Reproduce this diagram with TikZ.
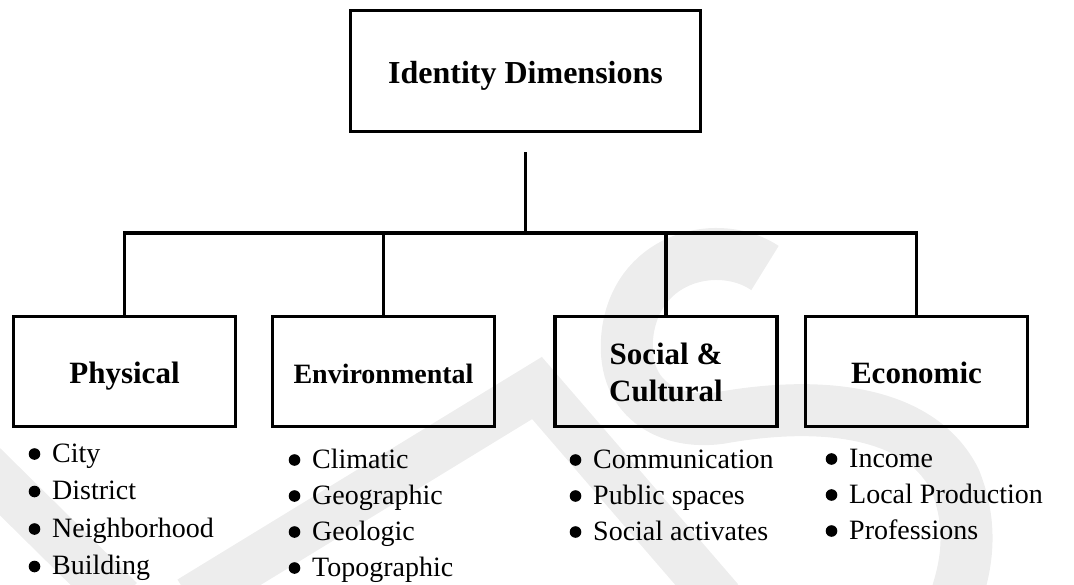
\documentclass[tikz,border=0pt]{standalone}
\usepackage{fontspec}
\setmainfont{Liberation Serif}
\usetikzlibrary{calc}
\newcommand\itembullet[1]{\fill ([xshift=-17.5pt,yshift=8pt]#1.base west) circle (5.8pt);}
\begin{document}
\begin{tikzpicture}[x=1pt,y=-1pt,
  box/.style={draw, line width=3.3pt, inner sep=0pt, minimum width=222pt, minimum height=110pt,
    font=\bfseries\fontsize{31}{38}\selectfont},
  rootbox/.style={box, minimum width=350pt, minimum height=121pt, font=\bfseries\fontsize{32}{38}\selectfont},
  item/.style={anchor=base west, inner sep=0pt, font=\fontsize{28}{34}\selectfont},
  link/.style={line width=3.3pt},
  wm/.style={draw=black!7, line width=52pt}]
\useasboundingbox (0,0) rectangle (1074,585);
% faint watermark
\draw[wm] (765,268) .. controls (720,238) and (640,255) .. (628,330)
  .. controls (618,400) and (670,425) .. (720,418)
  .. controls (820,400) and (920,410) .. (955,480)
  .. controls (975,530) and (965,570) .. (955,600);
\draw[wm, line width=48pt] (-20,462) -- (120,600);
\draw[wm, line width=48pt] (190,600) -- (537,388) -- (720,600);
% boxes
\node[rootbox] (root) at (525.5,71) {\raisebox{-13pt}[0pt][0pt]{Identity Dimensions}};
\node[box] (phys) at (124.5,371.5) {\raisebox{-12.5pt}[0pt][0pt]{Physical}};
\node[box, font=\bfseries\fontsize{28}{34}\selectfont] (env) at (383.5,371.5) {\raisebox{-11.5pt}[0pt][0pt]{Environmental}};
\node[box] (soc) at (666,371.5) {\raisebox{-30.5pt}[0pt][0pt]{\begin{tabular}[b]{@{}c@{}}Social \&\\Cultural\end{tabular}}};
\node[box] (econ) at (916.5,371.5) {\raisebox{-12pt}[0pt][0pt]{Economic}};
% connectors
\coordinate (stem) at ([yshift=-19pt]root.south);
\coordinate (j) at ($(stem)+(0,81)$);
\draw[link] (stem) -- (j);
\draw[link] (phys.north) -- (phys.north |- j) -- (econ.north |- j) -- (econ.north);
\draw[link] (env.north) -- (env.north |- j);
\draw[link] (soc.north) -- (soc.north |- j);
% lists
\node[item] (p1) at (52,462) {City};
\node[item] (p2) at (52,499.5) {District};
\node[item] (p3) at (52,537) {Neighborhood};
\node[item] (p4) at (52,574.5) {Building};
\node[item] (e1) at (312,468) {Climatic};
\node[item] (e2) at (312,504) {Geographic};
\node[item] (e3) at (312,540) {Geologic};
\node[item] (e4) at (312,576) {Topographic};
\node[item] (s1) at (593,468) {Communication};
\node[item] (s2) at (593,504) {Public spaces};
\node[item] (s3) at (593,540) {Social activates};
\node[item] (c1) at (849,467) {Income};
\node[item] (c2) at (849,503) {Local Production};
\node[item] (c3) at (849,539) {Professions};
\foreach \n in {p1,p2,p3,p4,e1,e2,e3,e4,s1,s2,s3,c1,c2,c3} {\itembullet{\n}}
\end{tikzpicture}
\end{document}
